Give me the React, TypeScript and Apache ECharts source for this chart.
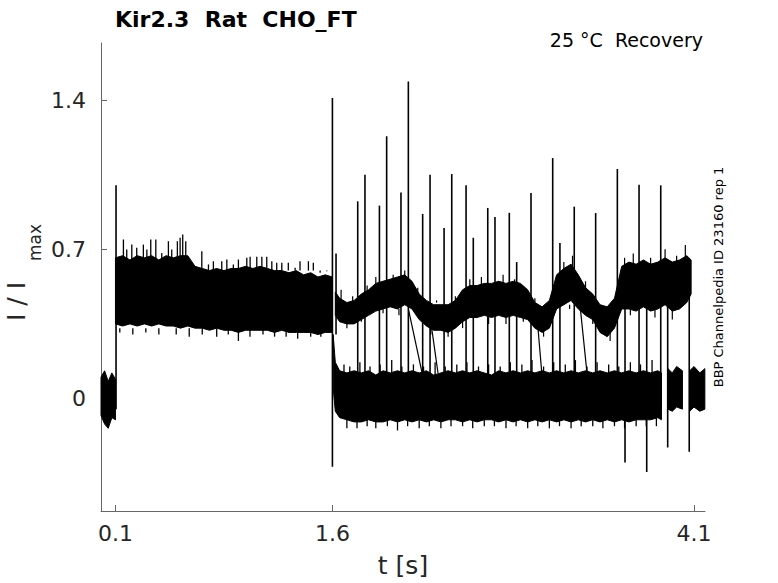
import React, { useEffect, useRef } from "react";
import * as echarts from "echarts";

// ---- axis ticks ----
const X_TICKS = [0.1, 1.6, 4.1];
const Y_TICKS = [0, 0.7, 1.4];

// ---- baseline before first pulse (noise envelope) ----
const BASE_T = [0, 0.025, 0.05, 0.075, 0.1];
const BASE_HI = [0.1, 0.13, 0.08, 0.12, 0.09];
const BASE_LO = [-0.08, -0.12, -0.14, -0.09, -0.1];

// ---- first pulse current: dense envelope ----
const PULSE_T = [
  0.1, 0.15, 0.2, 0.25, 0.3, 0.35, 0.4, 0.45, 0.5, 0.55, 0.6, 0.65, 0.7, 0.75, 0.8, 0.85, 0.9,
  0.95, 1.0, 1.05, 1.1, 1.15, 1.2, 1.25, 1.3, 1.35, 1.4, 1.45, 1.5, 1.55, 1.6,
];
const PULSE_HI = [
  0.66, 0.67, 0.65, 0.67, 0.66, 0.67, 0.65, 0.67, 0.66, 0.67, 0.67, 0.62, 0.61, 0.6, 0.61, 0.6,
  0.61, 0.61, 0.62, 0.61, 0.62, 0.61, 0.6, 0.6, 0.59, 0.6, 0.58, 0.59, 0.57, 0.58, 0.57,
];
const PULSE_LO = [
  0.35, 0.34, 0.35, 0.34, 0.35, 0.34, 0.35, 0.34, 0.34, 0.33, 0.34, 0.33, 0.33, 0.32, 0.33, 0.32,
  0.32, 0.31, 0.32, 0.32, 0.32, 0.32, 0.31, 0.32, 0.31, 0.31, 0.31, 0.31, 0.3, 0.31, 0.31,
];
// noise tips above / below the first-pulse envelope
const PULSE_UP_T = [
  0.155, 0.178, 0.213, 0.247, 0.293, 0.317, 0.344, 0.379, 0.42, 0.466, 0.489, 0.528, 0.547, 0.565,
  0.586, 0.628, 0.697, 0.743, 0.777, 0.835, 0.87, 0.915, 0.95, 1.008, 1.031, 1.077, 1.112, 1.146,
  1.181, 1.215, 1.25, 1.295, 1.342, 1.376, 1.434, 1.468, 1.515, 1.561,
];
const PULSE_UP_V = [
  0.746, 0.699, 0.722, 0.707, 0.722, 0.699, 0.746, 0.746, 0.683, 0.738, 0.699, 0.738, 0.754, 0.769,
  0.738, 0.621, 0.691, 0.629, 0.644, 0.644, 0.652, 0.629, 0.652, 0.66, 0.665, 0.665, 0.665, 0.665,
  0.644, 0.637, 0.637, 0.637, 0.613, 0.644, 0.644, 0.637, 0.59, 0.597,
];
const PULSE_DN_T = [
  0.13, 0.22, 0.31, 0.4, 0.52, 0.61, 0.7, 0.8, 0.88, 0.95, 1.03, 1.12, 1.2, 1.28, 1.36, 1.45, 1.52,
];
const PULSE_DN_V = [
  0.31, 0.3, 0.31, 0.3, 0.3, 0.29, 0.3, 0.29, 0.3, 0.27, 0.29, 0.3, 0.29, 0.29, 0.28, 0.29, 0.29,
];

// ---- recovery: closed (lower) level, dense envelope ----
const LOW_T = [
  1.605, 1.62, 1.65, 1.7, 1.75, 1.8, 1.85, 1.9, 1.95, 2.0, 2.05, 2.1, 2.15, 2.2, 2.25, 2.3, 2.35,
  2.4, 2.45, 2.5, 2.55, 2.6, 2.65, 2.7, 2.75, 2.8, 2.85, 2.9, 2.95, 3.0, 3.05, 3.1, 3.15, 3.2,
  3.25, 3.3, 3.35, 3.4, 3.45, 3.5, 3.55, 3.6, 3.65, 3.7, 3.75, 3.8, 3.85, 3.875,
];
const LOW_HI = [
  0.3, 0.17, 0.13, 0.12, 0.13, 0.12, 0.13, 0.11, 0.13, 0.12, 0.13, 0.12, 0.13, 0.12, 0.13, 0.11,
  0.12, 0.13, 0.12, 0.13, 0.12, 0.13, 0.12, 0.11, 0.13, 0.12, 0.13, 0.12, 0.13, 0.12, 0.13, 0.12,
  0.13, 0.12, 0.13, 0.12, 0.13, 0.12, 0.13, 0.12, 0.13, 0.12, 0.13, 0.12, 0.13, 0.12, 0.13, 0.12,
];
const LOW_LO = [
  0.05, -0.06, -0.09, -0.1, -0.11, -0.11, -0.1, -0.11, -0.11, -0.1, -0.11, -0.1, -0.11, -0.1,
  -0.11, -0.1, -0.11, -0.1, -0.1, -0.11, -0.1, -0.11, -0.1, -0.1, -0.11, -0.1, -0.11, -0.1, -0.11,
  -0.1, -0.11, -0.1, -0.11, -0.1, -0.11, -0.1, -0.11, -0.1, -0.11, -0.1, -0.11, -0.1, -0.11, -0.1,
  -0.1, -0.1, -0.09, -0.1,
];
const LOW_UP_T = [
  1.68, 1.72, 1.79, 1.86, 1.93, 2.01, 2.08, 2.16, 2.23, 2.31, 2.38, 2.46, 2.53, 2.61, 2.68, 2.76,
  2.83, 2.91, 2.98, 3.06, 3.13, 3.21, 3.28, 3.36, 3.43, 3.51, 3.58, 3.66, 3.73, 3.81,
];
const LOW_UP_V = [
  0.16, 0.15, 0.17, 0.15, 0.16, 0.18, 0.15, 0.16, 0.15, 0.17, 0.15, 0.16, 0.17, 0.15, 0.16, 0.15,
  0.17, 0.16, 0.18, 0.15, 0.17, 0.16, 0.18, 0.15, 0.17, 0.16, 0.15, 0.17, 0.16, 0.18,
];
const LOW_DN_T = [
  1.7, 1.77, 1.84, 1.9, 1.98, 2.05, 2.12, 2.2, 2.27, 2.35, 2.42, 2.5, 2.57, 2.65, 2.72, 2.8, 2.87,
  2.95, 3.02, 3.1, 3.17, 3.25, 3.32, 3.4, 3.47, 3.55, 3.62, 3.7, 3.77, 3.84,
];
const LOW_DN_V = [
  -0.14, -0.14, -0.13, -0.14, -0.13, -0.15, -0.13, -0.14, -0.13, -0.14, -0.13, -0.13, -0.14, -0.13,
  -0.13, -0.14, -0.13, -0.14, -0.13, -0.14, -0.13, -0.14, -0.13, -0.13, -0.14, -0.13, -0.14, -0.13,
  -0.13, -0.13,
];
const LOW2_T = [3.92, 3.95, 3.98, 4.02];
const LOW2_HI = [0.14, 0.12, 0.15, 0.13];
const LOW2_LO = [-0.05, -0.06, -0.04, -0.05];
const LOW3_T = [4.07, 4.1, 4.14, 4.175];
const LOW3_HI = [0.13, 0.15, 0.12, 0.14];
const LOW3_LO = [-0.06, -0.04, -0.06, -0.05];

// ---- recovery: open (upper) level ----
const HIGH_T = [
  1.62, 1.65, 1.7, 1.75, 1.8, 1.85, 1.9, 1.95, 2.0, 2.05, 2.1, 2.15, 2.2, 2.25, 2.3, 2.35, 2.4,
  2.45, 2.5, 2.55, 2.6, 2.65, 2.7, 2.75, 2.8, 2.85, 2.9, 2.95, 3.0, 3.05, 3.1, 3.15, 3.2, 3.25,
  3.3, 3.35, 3.4, 3.45, 3.5, 3.55, 3.6, 3.65, 3.7, 3.75, 3.8, 3.85, 3.9, 3.95, 4.0, 4.05, 4.08,
];
const HIGH_HI = [
  0.5, 0.47, 0.45, 0.46, 0.49, 0.51, 0.54, 0.55, 0.56, 0.57, 0.58, 0.55, 0.49, 0.46, 0.44, 0.44,
  0.44, 0.46, 0.51, 0.53, 0.53, 0.54, 0.54, 0.55, 0.54, 0.55, 0.54, 0.51, 0.45, 0.43, 0.46, 0.58,
  0.61, 0.63, 0.58, 0.52, 0.49, 0.44, 0.43, 0.47, 0.62, 0.64, 0.63, 0.65, 0.63, 0.64, 0.66, 0.64,
  0.65, 0.67, 0.65,
];
const HIGH_LO = [
  0.39, 0.36, 0.35, 0.35, 0.37, 0.39, 0.41, 0.42, 0.43, 0.42, 0.44, 0.42, 0.37, 0.34, 0.32, 0.32,
  0.31, 0.33, 0.36, 0.38, 0.38, 0.39, 0.38, 0.39, 0.38, 0.39, 0.38, 0.37, 0.33, 0.31, 0.33, 0.42,
  0.44, 0.46, 0.42, 0.39, 0.37, 0.31, 0.29, 0.33, 0.42, 0.42, 0.41, 0.43, 0.41, 0.42, 0.44, 0.41,
  0.42, 0.45, 0.49,
];
const HIGH_UP_T = [
  1.66, 1.74, 1.84, 1.9, 2.02, 2.1, 2.19, 2.32, 2.45, 2.55, 2.63, 2.78, 2.86, 3.0, 3.2, 3.26,
  3.35, 3.48, 3.62, 3.68, 3.8, 3.9, 3.98, 4.04,
];
const HIGH_UP_V = [
  0.51, 0.48, 0.53, 0.57, 0.58, 0.6, 0.52, 0.46, 0.48, 0.56, 0.57, 0.58, 0.56, 0.47, 0.64, 0.67,
  0.55, 0.45, 0.66, 0.68, 0.66, 0.7, 0.67, 0.72,
];
const HIGH_DN_T = [
  1.7, 1.8, 1.95, 2.06, 2.28, 2.4, 2.5, 2.68, 2.8, 2.92, 3.06, 3.24, 3.4, 3.52, 3.66, 3.83, 3.95, 4.06,
];
const HIGH_DN_V = [
  0.33, 0.36, 0.4, 0.39, 0.3, 0.29, 0.33, 0.35, 0.35, 0.36, 0.29, 0.44, 0.35, 0.27, 0.39, 0.38, 0.37, 0.42,
];

// ---- capacitive / reopening spikes (time, start value, end value) ----
const SPIKE_T = [
  0.104, 1.6, 1.625, 1.775, 1.825, 1.925, 1.975, 2.074, 2.125, 2.224, 2.275, 2.372, 2.425, 2.524,
  2.574, 2.674, 2.724, 2.823, 2.874, 2.973, 3.123, 3.173, 3.272, 3.42, 3.57, 3.72, 3.87, 3.623,
  3.773, 3.918, 4.067,
];
const SPIKE_FROM = [
  -0.05, -0.32, 0.3, -0.05, -0.05, -0.05, -0.05, -0.05, -0.05, -0.05, -0.05, -0.05, -0.05, -0.05,
  -0.05, -0.05, -0.05, -0.05, -0.05, -0.05, -0.05, -0.05, -0.05, -0.05, -0.05, -0.05, -0.05, 0.45,
  0.45, 0.5, 0.6,
];
const SPIKE_TO = [
  1.0, 1.41, 0.68, 0.925, 1.05, 0.905, 1.23, 0.967, 1.487, 0.866, 1.05, 0.8, 1.053, 1.0, 0.754,
  0.894, 0.852, 0.871, 0.64, 0.964, 1.128, 0.73, 0.9, 0.87, 1.077, 1.003, 1.0, -0.3, -0.345, -0.23,
  -0.25,
];

// ---- slow decays from upper to lower level (t1, v1, t2, v2) ----
const DECAY_T1 = [2.125, 2.28, 3.015, 3.31];
const DECAY_V1 = [0.42, 0.36, 0.38, 0.45];
const DECAY_T2 = [2.22, 2.33, 3.05, 3.36];
const DECAY_V2 = [0.12, 0.12, 0.1, 0.12];

const FONT = "DejaVu Sans";

function band(T: number[], HI: number[], LO: number[]) {
  return {
    type: "custom",
    coordinateSystem: "cartesian2d",
    silent: true,
    data: [[T[0], HI[0]]],
    encode: { x: 0, y: 1 },
    renderItem: (_p: any, api: any) => {
      const top = T.map((t, i) => api.coord([t, HI[i]]));
      const bot = T.map((t, i) => api.coord([t, LO[i]])).reverse();
      return {
        type: "polygon",
        shape: { points: top.concat(bot) },
        style: { fill: "#000", stroke: "#000", lineWidth: 1 },
      };
    },
  };
}

// vertical segments from a level to a value
function ticksSeries(T: number[], FROM: number[] | number, TO: number[], width: number) {
  return {
    type: "custom",
    coordinateSystem: "cartesian2d",
    silent: true,
    data: T.map((t, i) => [t, Array.isArray(FROM) ? FROM[i] : FROM, TO[i]]),
    encode: { x: 0, y: [1, 2] },
    renderItem: (_p: any, api: any) => {
      const a = api.coord([api.value(0), api.value(1)]);
      const b = api.coord([api.value(0), api.value(2)]);
      return {
        type: "line",
        shape: { x1: a[0], y1: a[1], x2: b[0], y2: b[1] },
        style: { stroke: "#000", lineWidth: width },
      };
    },
  };
}

export default function App() {
  const ref = useRef<HTMLDivElement>(null);
  useEffect(() => {
    if (!ref.current) return;
    const chart = echarts.init(ref.current, null, { renderer: "svg" });
    const axisColor = "#666";
    const textColor = "#262626";
    chart.setOption({
      animation: false,
      grid: { left: 101, right: 73, top: 43, bottom: 71, containLabel: false },
      xAxis: {
        type: "value",
        min: 0,
        max: 4.176,
        splitLine: { show: false },
        axisLine: { show: true, onZero: false, lineStyle: { color: axisColor, width: 1 } },
        axisTick: { show: true, inside: true, length: 6, lineStyle: { color: axisColor }, customValues: X_TICKS },
        axisLabel: {
          customValues: X_TICKS,
          fontSize: 22,
          fontFamily: FONT,
          color: textColor,
          margin: 11,
          formatter: (v: number) => String(v),
        },
        name: "t [s]",
        nameLocation: "middle",
        nameGap: 42,
        nameTextStyle: { fontSize: 25, fontFamily: FONT, color: textColor },
      },
      yAxis: {
        type: "value",
        min: -0.528,
        max: 1.668,
        splitLine: { show: false },
        axisLine: { show: true, onZero: false, lineStyle: { color: axisColor, width: 1 } },
        axisTick: { show: true, inside: true, length: 6, lineStyle: { color: axisColor }, customValues: Y_TICKS },
        axisLabel: {
          customValues: Y_TICKS,
          fontSize: 22,
          fontFamily: FONT,
          color: textColor,
          margin: 15,
          formatter: (v: number) => String(v),
        },
      },
      graphic: [
        {
          type: "text",
          left: 115,
          top: 8,
          style: { text: "Kir2.3  Rat  CHO_FT", font: `bold 22px "${FONT}"`, fill: "#000" },
        },
        {
          type: "text",
          x: 703,
          y: 40,
          style: { text: "25 °C  Recovery", font: `19px "${FONT}"`, fill: "#000", align: "right", verticalAlign: "middle" },
        },
        {
          type: "text",
          x: 718,
          y: 277,
          rotation: Math.PI / 2,
          style: { text: "BBP Channelpedia ID 23160 rep 1", font: `13px "${FONT}"`, fill: "#000", align: "center", verticalAlign: "middle" },
        },
        {
          type: "text",
          x: 16,
          y: 321,
          rotation: Math.PI / 2,
          style: { text: "I / I", font: `25px "${FONT}"`, fill: textColor, align: "left", verticalAlign: "middle" },
        },
        {
          type: "text",
          x: 35,
          y: 261,
          rotation: Math.PI / 2,
          style: { text: "max", font: `17px "${FONT}"`, fill: textColor, align: "left", verticalAlign: "middle" },
        },
      ],
      series: [
        band(BASE_T, BASE_HI, BASE_LO),
        band(PULSE_T, PULSE_HI, PULSE_LO),
        ticksSeries(PULSE_UP_T, 0.6, PULSE_UP_V, 1.3),
        ticksSeries(PULSE_DN_T, 0.33, PULSE_DN_V, 1.3),
        band(LOW_T, LOW_HI, LOW_LO),
        ticksSeries(LOW_UP_T, 0.1, LOW_UP_V, 1.3),
        ticksSeries(LOW_DN_T, -0.08, LOW_DN_V, 1.3),
        band(LOW2_T, LOW2_HI, LOW2_LO),
        band(LOW3_T, LOW3_HI, LOW3_LO),
        band(HIGH_T, HIGH_HI, HIGH_LO),
        ticksSeries(HIGH_UP_T, 0.45, HIGH_UP_V, 1.2),
        ticksSeries(HIGH_DN_T, 0.42, HIGH_DN_V, 1.2),
        {
          type: "custom",
          coordinateSystem: "cartesian2d",
          silent: true,
          data: DECAY_T1.map((t, i) => [t, DECAY_V1[i], DECAY_T2[i], DECAY_V2[i]]),
          encode: { x: [0, 2], y: [1, 3] },
          renderItem: (_p: any, api: any) => {
            const a = api.coord([api.value(0), api.value(1)]);
            const b = api.coord([api.value(2), api.value(3)]);
            return {
              type: "line",
              shape: { x1: a[0], y1: a[1], x2: b[0], y2: b[1] },
              style: { stroke: "#000", lineWidth: 1.2 },
            };
          },
        },
        ticksSeries(SPIKE_T, SPIKE_FROM, SPIKE_TO, 1.6),
      ],
    });
    return () => chart.dispose();
  }, []);
  return (
    <div style={{ position: "fixed", left: 0, top: 0, width: 778, height: 583, background: "#fff" }}>
      <div ref={ref} style={{ width: 778, height: 583 }} />
    </div>
  );
}
